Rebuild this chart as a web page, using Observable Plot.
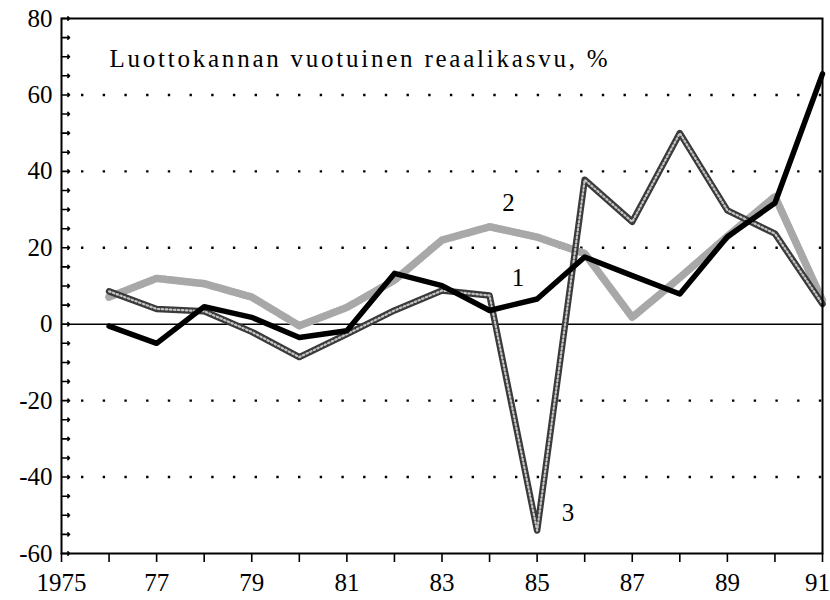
<!DOCTYPE html>
<html>
<head>
<meta charset="utf-8">
<script src="https://cdn.jsdelivr.net/npm/d3@7"></script>
<script src="https://cdn.jsdelivr.net/npm/@observablehq/plot@0.6"></script>
<style>
  html, body { margin: 0; padding: 0; background: white; font-family: "Liberation Serif", serif; }
  #chart { width: 830px; height: 600px; }
</style>
</head>
<body>
<div id="chart"></div>
<script>
// ---- data ----
const years = [1976, 1977, 1978, 1979, 1980, 1981, 1982, 1983, 1984, 1985, 1986, 1987, 1988, 1989, 1990, 1991];
const series1 = [-0.5, -5.0, 4.6, 1.8, -3.5, -1.7, 13.3, 10.1, 3.6, 6.6, 17.6, 12.7, 7.9, 22.9, 31.7, 65.5];
const series2 = [7.1, 12.0, 10.6, 7.1, -0.4, 4.4, 11.5, 22.0, 25.5, 22.8, 18.5, 1.8, 12.2, 23.0, 33.4, 6.2];
const series3 = [8.6, 4.0, 3.4, -2.0, -8.6, -2.6, 3.6, 8.8, 7.5, -54.0, 37.8, 26.8, 50.0, 29.8, 23.7, 5.3];

const labelNames = ["1", "2", "3"];
const labelYears = [1984.6, 1984.4, 1985.65];
const labelValues = [12.2, 31.6, -49.3];

const titleText = "Luottokannan vuotuinen reaalikasvu, %";

const yLabelTicks = [-60, -40, -20, 0, 20, 40, 60, 80];
const yMinorTicks = [-60, -55, -50, -45, -40, -35, -30, -25, -20, -15, -10, -5, 0, 5, 10, 15, 20, 25, 30, 35, 40, 45, 50, 55, 60, 65, 70, 75, 80];
const gridValues = [-40, -20, 20, 40, 60];
const xTicks = [1975, 1976, 1977, 1978, 1979, 1980, 1981, 1982, 1983, 1984, 1985, 1986, 1987, 1988, 1989, 1990, 1991];
const xLabelYears = [1975, 1977, 1979, 1981, 1983, 1985, 1987, 1989, 1991];
const xLabelTexts = ["1975", "77", "79", "81", "83", "85", "87", "89", "91"];

// ---- tables built from the arrays ----
const rows = years.map((y, i) => ({year: y, v1: series1[i], v2: series2[i], v3: series3[i]}));
const labels = labelNames.map((n, i) => ({name: n, x: labelYears[i], y: labelValues[i]}));
const xLabelMap = new Map(xLabelYears.map((y, i) => [y, xLabelTexts[i]]));

const font = "Liberation Serif";

const chart = Plot.plot({
  width: 830,
  height: 600,
  marginLeft: 61,
  marginRight: 8,
  marginTop: 18,
  marginBottom: 47,
  style: {fontSize: "25px", color: "black", background: "white"},
  x: {domain: [1975, 1991]},
  y: {domain: [-60, 80]},
  marks: [
    Plot.ruleY(gridValues, {stroke: "black", strokeWidth: 2.4, strokeDasharray: "2.4,19.3", strokeDashoffset: -20}),
    Plot.ruleY([0], {stroke: "black", strokeWidth: 1.6}),
    // series 2: light stippled
    Plot.line(rows, {x: "year", y: "v2", stroke: "#d2d2d2", strokeWidth: 7.5}),
    Plot.line(rows, {x: "year", y: "v2", stroke: "#a8a8a8", strokeWidth: 7.5, strokeDasharray: "1,2.5"}),
    // series 3: dark hatched
    Plot.line(rows, {x: "year", y: "v3", stroke: "#3a3a3a", strokeWidth: 6.5}),
    Plot.line(rows, {x: "year", y: "v3", stroke: "#c4c4c4", strokeWidth: 2.2, strokeDasharray: "1.5,2.5"}),
    // series 1: solid black
    Plot.line(rows, {x: "year", y: "v1", stroke: "black", strokeWidth: 5.5}),
    Plot.text(labels, {x: "x", y: "y", text: "name", fontSize: 25, fill: "black"}),
    Plot.text([titleText], {
      frameAnchor: "top-left", dx: 48, dy: 40, textAnchor: "start", lineAnchor: "middle",
      fontSize: 25, fill: "black", className: "chart-title"
    }),
    Plot.frame({stroke: "black", strokeWidth: 2}),
    // inward minor ticks on the left axis
    Plot.vector(yMinorTicks, {y: d => d, frameAnchor: "left", rotate: 90, length: 8, anchor: "start",
      stroke: "black", strokeWidth: 1.6}),
    Plot.axisY({ticks: yLabelTicks, tickSize: 0, tickPadding: 9, label: null, fontSize: 25,
      tickFormat: d => String(d)}),
    Plot.axisX({ticks: xTicks, tickSize: 9, tickPadding: 11, label: null, fontSize: 25,
      strokeWidth: 1.6, tickFormat: d => xLabelMap.get(d) || ""})
  ]
});

const svg = d3.select(chart);
svg.style("font-family", font);
svg.selectAll("g").attr("font-family", null);
svg.selectAll("text").attr("font-family", font).style("font-family", font);
svg.selectAll(".chart-title text").attr("textLength", 498).attr("lengthAdjust", "spacing");
svg.selectAll("text").filter(function () { return this.textContent === "91"; }).attr("dx", -5);
document.getElementById("chart").appendChild(chart);
</script>
</body>
</html>
